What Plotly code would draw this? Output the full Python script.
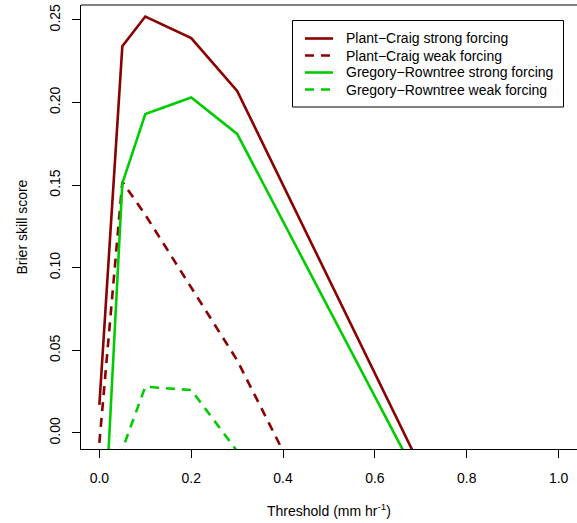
import plotly.graph_objects as go

thresholds = [0.0, 0.05, 0.1, 0.2, 0.3, 0.4, 0.5, 0.6, 0.7]
pc_strong = [0.017, 0.234, 0.252, 0.239, 0.207, 0.150, 0.093, 0.036, -0.021]
gr_strong = [-0.118, 0.151, 0.193, 0.203, 0.181, 0.128, 0.075, 0.022, -0.031]

thresholds_weak_pc = [0.0, 0.05, 0.1, 0.2, 0.3, 0.4]
pc_weak = [-0.006, 0.152, 0.132, 0.088, 0.044, -0.011]

thresholds_weak_gr = [0.0, 0.05, 0.1, 0.2, 0.3]
gr_weak = [-0.15, -0.010, 0.028, 0.026, -0.011]

series_names = ["Plant\u2212Craig strong forcing", "Plant\u2212Craig weak forcing",
                "Gregory\u2212Rowntree strong forcing", "Gregory\u2212Rowntree weak forcing"]

x_ticks = [0.0, 0.2, 0.4, 0.6, 0.8, 1.0]
y_ticks = [0.00, 0.05, 0.10, 0.15, 0.20, 0.25]

DARKRED = "#8B0000"
GREEN = "#00CD00"
DASH = "9px,7px"
LW = 2.6
FAMILY = "Liberation Sans, Arial, Helvetica, sans-serif"
FS = 14

# plot-area geometry in pixels
W, H = 577, 523
L, R, T, B = 81, 0, 5, 74
PW, PH = W - L - R, H - T - B


def px(xp):
    return (xp - L) / PW


def py(yp):
    return (H - B - yp) / PH


styles = [(DARKRED, "solid"), (DARKRED, DASH), (GREEN, "solid"), (GREEN, DASH)]
xs = [thresholds, thresholds_weak_pc, thresholds, thresholds_weak_gr]
ys = [pc_strong, pc_weak, gr_strong, gr_weak]

fig = go.Figure()
for name, (c, d), x, y in zip(series_names, styles, xs, ys):
    fig.add_trace(go.Scatter(x=x, y=y, mode="lines", name=name,
                             line=dict(color=c, width=LW, dash=d)))

shapes = []
annotations = []
# frame top
shapes.append(dict(type="line", xref="paper", yref="paper", x0=0, x1=1, y0=1, y1=1,
                   line=dict(color="black", width=1)))
# legend box
shapes.append(dict(type="rect", xref="paper", yref="paper",
                   x0=px(292.5), x1=px(563.5), y0=py(107), y1=py(20.5),
                   line=dict(color="black", width=1), fillcolor="white", layer="above"))
row_y = [38.5, 55.5, 72.5, 89.5]
for (c, d), name, yr in zip(styles, series_names, row_y):
    shapes.append(dict(type="line", xref="paper", yref="paper",
                       x0=px(305), x1=px(333), y0=py(yr), y1=py(yr),
                       line=dict(color=c, width=LW, dash=d), layer="above"))
    annotations.append(dict(text=name, xref="paper", yref="paper", x=px(344), y=py(yr),
                            xanchor="left", yanchor="middle", showarrow=False,
                            font=dict(family=FAMILY, size=FS, color="black")))
# axis titles
annotations.append(dict(text="Threshold (mm hr<sup>-1</sup>)", xref="paper", yref="paper",
                        x=0.5, y=py(510), xanchor="center", yanchor="middle",
                        showarrow=False, font=dict(family=FAMILY, size=FS, color="black")))
annotations.append(dict(text="Brier skill score", xref="paper", yref="paper",
                        x=px(21.5), y=0.5, xanchor="center", yanchor="middle",
                        textangle=-90, showarrow=False,
                        font=dict(family=FAMILY, size=FS, color="black")))

fig.update_layout(
    width=W, height=H,
    margin=dict(l=L, r=R, t=T, b=B),
    paper_bgcolor="white", plot_bgcolor="white",
    font=dict(family=FAMILY, size=FS, color="black"),
    showlegend=False,
    hovermode=False,
    shapes=shapes,
    annotations=annotations,
)
fig.update_xaxes(range=[-0.04, 1.04], tickvals=x_ticks,
                 ticktext=[f"{v:.1f}" for v in x_ticks],
                 automargin=False,
                 showgrid=False, zeroline=False, showline=True, linecolor="black",
                 linewidth=1, ticks="outside", ticklen=8, tickcolor="black",
                 tickfont=dict(size=FS), ticklabelstandoff=8)
fig.update_yaxes(range=[-0.0097, 0.259], tickvals=y_ticks,
                 ticktext=[f"{v:.2f}" for v in y_ticks],
                 tickangle=-90, automargin=False,
                 showgrid=False, zeroline=False, showline=True, linecolor="black",
                 linewidth=1, ticks="outside", ticklen=8, tickcolor="black",
                 tickfont=dict(size=FS), ticklabelstandoff=6)

fig.write_html("out.html",
               config={"displayModeBar": False},
               post_script="document.body.style.margin='0';"
                           "document.body.style.overflow='hidden';")
